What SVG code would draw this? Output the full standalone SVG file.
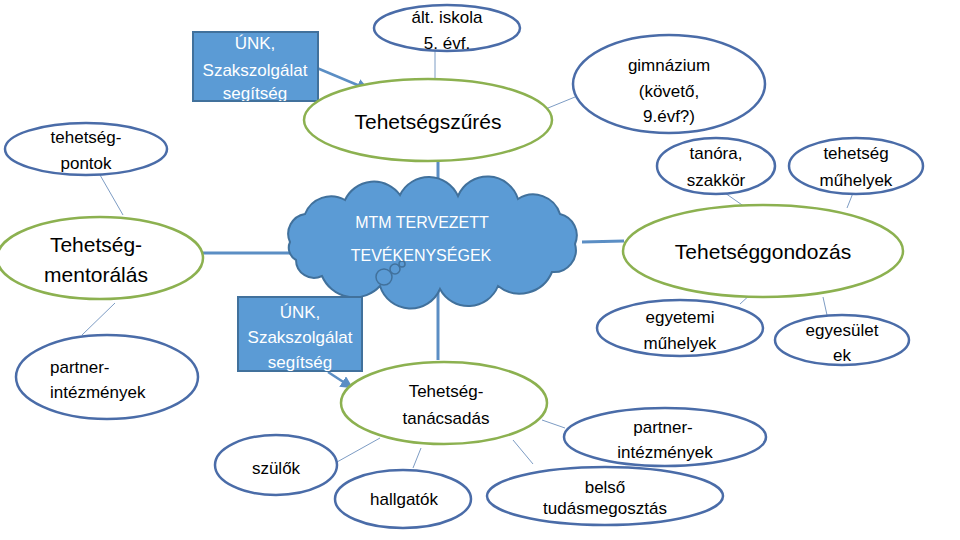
<svg xmlns="http://www.w3.org/2000/svg" width="960" height="540" viewBox="0 0 960 540">
<style>
.bl{fill:#fff;stroke:#4a6ca8;stroke-width:2.5}
.gr{fill:#fff;stroke:#8cb150;stroke-width:2.5}
.t{font-family:"Liberation Sans",Arial,sans-serif;font-size:17px;fill:#000;text-anchor:middle}
.tl{font-family:"Liberation Sans",Arial,sans-serif;font-size:21px;fill:#000;text-anchor:middle}
.w{font-family:"Liberation Sans",Arial,sans-serif;font-size:17px;fill:#fff;text-anchor:middle}
.thin{stroke:#7d9cc4;stroke-width:1;fill:none}
.thick{stroke:#5b8ec4;stroke-width:3;fill:none}
.arr{stroke:#5b8ec4;stroke-width:2.5;fill:none;marker-end:url(#ah)}
.box{fill:#5b9bd5;stroke:#41719c;stroke-width:2}
</style>
<defs>
<marker id="ah" viewBox="0 0 10 10" refX="8" refY="5" markerWidth="5" markerHeight="5" orient="auto"><path d="M0,0 L10,5 L0,10 z" fill="#5b8ec4"/></marker>
<clipPath id="c1"><rect x="193" y="32" width="125" height="69"/></clipPath>
<clipPath id="c2"><rect x="238" y="297" width="124" height="74"/></clipPath>
</defs>
<rect width="960" height="540" fill="#fff"/>
<g id="connectors">
<line class="thin" x1="435" y1="50" x2="435" y2="80"/>
<line class="thin" x1="548" y1="108" x2="575" y2="97"/>
<line class="thin" x1="725" y1="193" x2="745" y2="207"/>
<line class="thin" x1="853" y1="193" x2="847" y2="208"/>
<line class="thin" x1="752" y1="293" x2="740" y2="304"/>
<line class="thin" x1="823" y1="297" x2="827" y2="315"/>
<line class="thin" x1="100" y1="175" x2="123" y2="215"/>
<line class="thin" x1="115" y1="303" x2="82" y2="335"/>
<line class="thin" x1="380" y1="438" x2="337" y2="462"/>
<line class="thin" x1="421" y1="448" x2="413" y2="468"/>
<line class="thin" x1="542" y1="420" x2="565" y2="428"/>
<line class="thin" x1="513" y1="440" x2="533" y2="464"/>
<line class="thick" x1="438" y1="161" x2="438" y2="196"/>
<line class="thick" x1="438" y1="287" x2="438" y2="360"/>
<line class="thick" x1="203" y1="253" x2="292" y2="253"/>
<line class="thick" x1="582" y1="242" x2="624" y2="241"/>
<line class="arr" x1="317" y1="68" x2="367" y2="89"/>
<line class="arr" x1="328" y1="372" x2="351" y2="387"/>
</g>
<g id="n-alt"><ellipse class="bl" cx="447" cy="28" rx="73" ry="23"/><text class="t" x="447" y="23">ált. iskola</text><text class="t" x="447" y="49">5. évf.</text></g>
<g id="n-unk1"><rect class="box" x="193" y="32" width="125" height="69"/><g clip-path="url(#c1)"><text class="w" x="255" y="49">ÚNK,</text><text class="w" x="255" y="76">Szakszolgálat</text><text class="w" x="255" y="99">segítség</text></g></g>
<g id="n-szures"><ellipse class="gr" cx="428" cy="120" rx="124" ry="41"/><text class="tl" x="428" y="129">Tehetségszűrés</text></g>
<g id="n-gimn"><ellipse class="bl" cx="669" cy="84" rx="96" ry="49"/><text class="t" x="669" y="71">gimnázium</text><text class="t" x="669" y="97">(követő,</text><text class="t" x="669" y="122">9.évf?)</text></g>
<g id="n-tanora"><ellipse class="bl" cx="716" cy="166" rx="59" ry="28"/><text class="t" x="716" y="159">tanóra,</text><text class="t" x="716" y="186">szakkör</text></g>
<g id="n-muhely"><ellipse class="bl" cx="856" cy="166" rx="67" ry="28"/><text class="t" x="856" y="159">tehetség</text><text class="t" x="856" y="186">műhelyek</text></g>
<g id="n-pontok"><ellipse class="bl" cx="86" cy="149" rx="81" ry="26"/><text class="t" x="86" y="143">tehetség-</text><text class="t" x="86" y="169">pontok</text></g>
<g id="n-cloud">
<path d="M290,242 A20,20 0 0 1 305,214 A28,28 0 0 1 345,200 A32,32 0 0 1 400,195 A32,32 0 0 1 458,196 A32,32 0 0 1 518,199 A28,28 0 0 1 560,214 A22,22 0 0 1 575,244 A22,22 0 0 1 552,272 A35,35 0 0 1 498,286 A32,32 0 0 1 440,289 A32,32 0 0 1 380,286 A35,35 0 0 1 322,276 A18,18 0 0 1 296,260 A14,14 0 0 1 290,242 Z" fill="#5b9bd5" stroke="#41719c" stroke-width="2"/>
<circle cx="384" cy="277" r="8" fill="#5b9bd5" stroke="#41719c" stroke-width="1.5"/>
<circle cx="395" cy="269" r="5" fill="#5b9bd5" stroke="#41719c" stroke-width="1.5"/>
<circle cx="402" cy="264" r="3" fill="#5b9bd5" stroke="#41719c" stroke-width="1.5"/>
<text class="w" x="422" y="228" style="font-size:16px">MTM TERVEZETT</text><text class="w" x="421" y="261" style="font-size:16px">TEVÉKENYSÉGEK</text></g>
<g id="n-mentor"><ellipse class="gr" cx="100" cy="258" rx="103" ry="41"/><text class="tl" x="96" y="252">Tehetség-</text><text class="tl" x="96" y="282">mentorálás</text></g>
<g id="n-gondozas"><ellipse class="gr" cx="763" cy="251" rx="140" ry="46"/><text class="tl" x="763" y="259">Tehetséggondozás</text></g>
<g id="n-egyetemi"><ellipse class="bl" cx="680" cy="328" rx="83" ry="28"/><text class="t" x="680" y="323">egyetemi</text><text class="t" x="680" y="349">műhelyek</text></g>
<g id="n-egyesulet"><ellipse class="bl" cx="842" cy="340" rx="67" ry="25"/><text class="t" x="842" y="336">egyesület</text><text class="t" x="842" y="361">ek</text></g>
<g id="n-partner1"><ellipse class="bl" cx="107" cy="377" rx="91" ry="42"/><text class="t" x="50" y="373" style="text-anchor:start">partner-</text><text class="t" x="50" y="398" style="text-anchor:start">intézmények</text></g>
<g id="n-unk2"><rect class="box" x="238" y="297" width="124" height="74"/><g clip-path="url(#c2)"><text class="w" x="300" y="318">ÚNK,</text><text class="w" x="300" y="343">Szakszolgálat</text><text class="w" x="300" y="368">segítség</text></g></g>
<g id="n-tanacs"><ellipse class="gr" cx="444" cy="403" rx="103" ry="41"/><text class="t" x="446" y="397">Tehetség-</text><text class="t" x="446" y="424">tanácsadás</text></g>
<g id="n-szulok"><ellipse class="bl" cx="276" cy="465" rx="61" ry="30"/><text class="t" x="276" y="474">szülők</text></g>
<g id="n-hallgatok"><ellipse class="bl" cx="403" cy="499" rx="68" ry="29"/><text class="t" x="404" y="505">hallgatók</text></g>
<g id="n-partner2"><ellipse class="bl" cx="665" cy="437" rx="101" ry="29"/><text class="t" x="663" y="433">partner-</text><text class="t" x="665" y="458">intézmények</text></g>
<g id="n-belso"><ellipse class="bl" cx="605" cy="496" rx="118" ry="29"/><text class="t" x="605" y="493">belső</text><text class="t" x="605" y="514">tudásmegosztás</text></g>
</svg>
